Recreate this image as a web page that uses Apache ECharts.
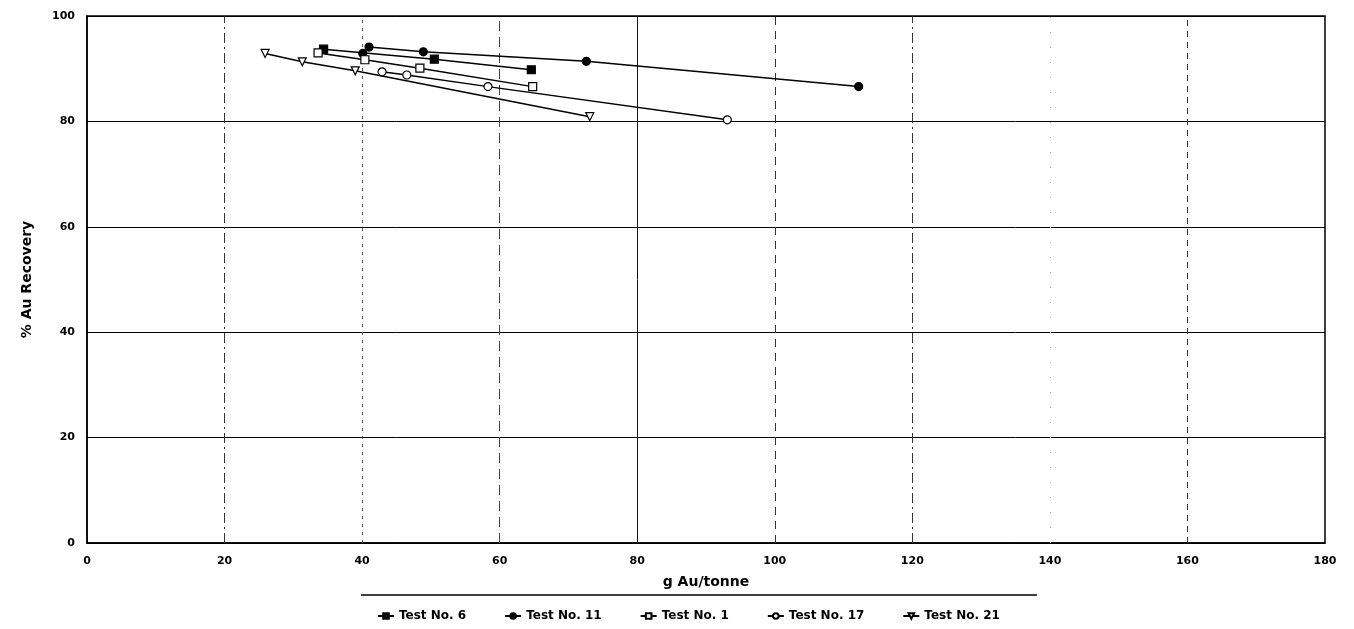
<!DOCTYPE html>
<html>
<head>
<meta charset="utf-8">
<script src="https://cdn.jsdelivr.net/npm/echarts@6/dist/echarts.min.js"></script>
<style>html,body{margin:0;padding:0;background:#fff}#c{width:1354px;height:629px}</style>
</head>
<body>
<div id="c"></div>
<script>
// Data (x = g Au/tonne, y = % Au recovery)
const seriesNames = ['Test No. 6', 'Test No. 11', 'Test No. 1', 'Test No. 17', 'Test No. 21'];
const test6X  = [34.4, 50.5, 64.6];
const test6Y  = [93.7, 91.8, 89.8];
const test11X = [40.1, 41.0, 48.9, 72.6, 112.2];
const test11Y = [92.9, 94.1, 93.2, 91.4, 86.6];
const test1X  = [33.6, 40.4, 48.4, 64.8];
const test1Y  = [93.0, 91.7, 90.1, 86.6];
const test17X = [42.9, 46.5, 58.3, 93.1];
const test17Y = [89.4, 88.8, 86.6, 80.3];
const test21X = [25.9, 31.3, 39.0, 73.1];
const test21Y = [92.9, 91.3, 89.6, 80.9];
const xTicks = [0, 20, 40, 60, 80, 100, 120, 140, 160, 180];
const yTicks = [0, 20, 40, 60, 80, 100];
const xGridValues = [20, 40, 60, 80, 100, 120, 140, 160];

const pair = (xs, ys) => xs.map((x, i) => [x, ys[i]]);
const FONT = 'DejaVu Sans';

// vertical grid line styles (scanned original uses mixed dash patterns)
const vStyles = [
  {type: [10, 4, 2, 4], color: '#333'},
  {type: [3, 5], color: '#555'},
  {type: [10, 6], color: '#444'},
  {type: 'solid', color: '#111'},
  {type: [8, 6], color: '#333'},
  {type: [10, 4, 2, 4], color: '#333'},
  {type: [1, 14], color: '#aaa'},
  {type: [6, 5], color: '#333'}
];

const styles = [
  {symbol: 'rect', fill: '#000', rotate: 0},
  {symbol: 'circle', fill: '#000', rotate: 0},
  {symbol: 'rect', fill: '#fff', rotate: 0},
  {symbol: 'circle', fill: '#fff', rotate: 0},
  {symbol: 'triangle', fill: '#fff', rotate: 180}
];
const dataSets = [pair(test6X, test6Y), pair(test11X, test11Y), pair(test1X, test1Y), pair(test17X, test17Y), pair(test21X, test21Y)];

const series = dataSets.map((d, i) => ({
  name: seriesNames[i], type: 'line', data: d, z: 3,
  symbol: styles[i].symbol, symbolSize: 8, symbolRotate: styles[i].rotate,
  showAllSymbol: true,
  lineStyle: {color: '#000', width: 1.5},
  itemStyle: {color: styles[i].fill, borderColor: '#000', borderWidth: 1.2}
}));
series[0].markLine = {
  silent: true, symbol: ['none', 'none'], label: {show: false}, z: 1,
  data: xGridValues.map((v, i) => ({xAxis: v, lineStyle: {type: vStyles[i].type, color: vStyles[i].color, width: 1}}))
};

const chart = echarts.init(document.getElementById('c'), null, {renderer: 'canvas'});
chart.setOption({
  animation: false,
  backgroundColor: '#fff',
  grid: {left: 87, right: 29, top: 16, bottom: 86, show: true, borderColor: '#000', borderWidth: 1.5, backgroundColor: 'transparent'},
  xAxis: {
    type: 'value', min: xTicks[0], max: xTicks[xTicks.length - 1], interval: 20,
    name: 'g Au/tonne', nameLocation: 'middle', nameGap: 32,
    nameTextStyle: {fontFamily: FONT, fontWeight: 'bold', fontSize: 14, color: '#000'},
    axisLine: {show: true, lineStyle: {color: '#000', width: 1.5}},
    axisTick: {show: false},
    axisLabel: {fontFamily: FONT, fontWeight: 'bold', fontSize: 11, color: '#000', margin: 13},
    splitLine: {show: false}
  },
  yAxis: {
    type: 'value', min: yTicks[0], max: yTicks[yTicks.length - 1], interval: 20,
    name: '% Au Recovery', nameLocation: 'middle', nameGap: 53,
    nameTextStyle: {fontFamily: FONT, fontWeight: 'bold', fontSize: 14, color: '#000'},
    axisLine: {show: true, lineStyle: {color: '#000', width: 1.5}},
    axisTick: {show: false},
    axisLabel: {fontFamily: FONT, fontWeight: 'bold', fontSize: 11, color: '#000', margin: 12},
    splitLine: {show: true, lineStyle: {color: '#000', width: 1, type: 'solid'}}
  },
  legend: {
    left: 372, top: 605, itemGap: 38, itemWidth: 16, itemHeight: 7,
    textStyle: {fontFamily: FONT, fontWeight: 'bold', fontSize: 12, color: '#000'},
    data: seriesNames
  },
  graphic: [{
    type: 'line', shape: {x1: 361, y1: 595, x2: 1037, y2: 595},
    style: {stroke: '#000', lineWidth: 1.5}
  }],
  series: series
});
</script>
</body>
</html>
